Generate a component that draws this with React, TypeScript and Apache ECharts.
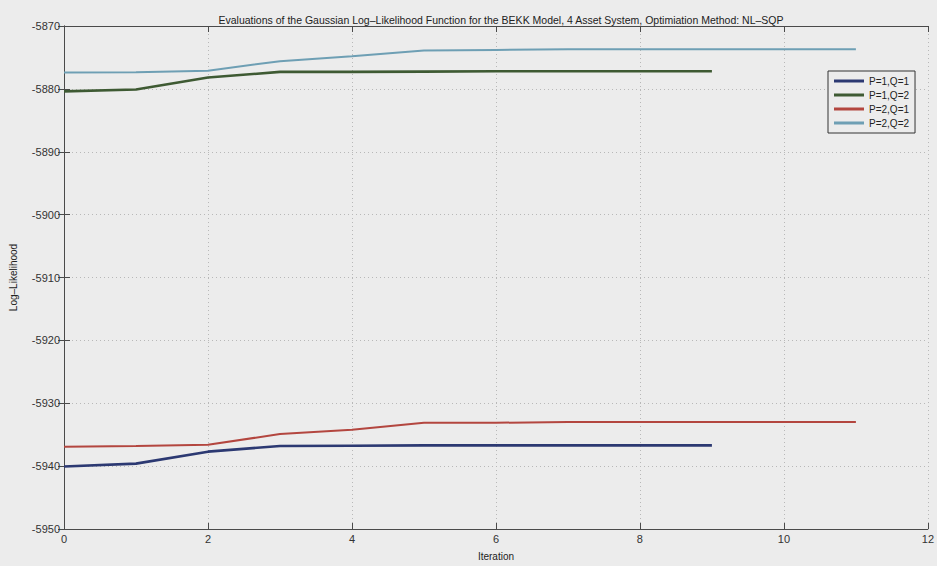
import React, { useEffect, useRef } from "react";
import * as echarts from "echarts";

const titleText =
  "Evaluations of the Gaussian Log–Likelihood Function for the BEKK Model, 4 Asset System, Optimiation Method: NL–SQP";
const xName = "Iteration";
const yName = "Log–Likelihood";

const seriesNames = ["P=1,Q=1", "P=1,Q=2", "P=2,Q=1", "P=2,Q=2"];
const seriesColors = ["#2c3972", "#3e5a33", "#b3463f", "#6e9fb4"];
const seriesWidths = [2.6, 2.6, 2, 2];

const itersShort = [0, 1, 2, 3, 4, 5, 6, 7, 8, 9];
const itersLong = [0, 1, 2, 3, 4, 5, 6, 7, 8, 9, 10, 11];

const p1q1 = [-5940.05, -5939.6, -5937.7, -5936.8, -5936.75, -5936.7, -5936.7, -5936.7, -5936.7, -5936.7];
const p1q2 = [-5880.4, -5880.1, -5878.2, -5877.3, -5877.3, -5877.25, -5877.2, -5877.2, -5877.2, -5877.2];
const p2q1 = [-5936.9, -5936.8, -5936.6, -5934.9, -5934.2, -5933.1, -5933.1, -5933.0, -5933.0, -5933.0, -5933.0, -5933.0];
const p2q2 = [-5877.4, -5877.35, -5877.1, -5875.6, -5874.8, -5873.9, -5873.8, -5873.7, -5873.7, -5873.7, -5873.7, -5873.7];

const seriesX = [itersShort, itersShort, itersLong, itersLong];
const seriesY = [p1q1, p1q2, p2q1, p2q2];

const X_MIN = 0;
const X_MAX = 12;
const X_STEP = 2;
const Y_MIN = -5950;
const Y_MAX = -5870;
const Y_STEP = 10;

const FONT = "'Liberation Sans', Arial, Helvetica, sans-serif";
const BG = "#ececec";
const AXIS = "#4a4a4a";

export default function App() {
  const ref = useRef<HTMLDivElement>(null);
  useEffect(() => {
    document.body.style.margin = "0";
    if (!ref.current) return;
    const chart = echarts.init(ref.current, undefined, { renderer: "svg" });
    const axisLabel = { color: "#333", fontSize: 11, fontFamily: FONT, formatter: (v: number) => String(v) };
    const mirrorX = {
      type: "value" as const,
      position: "top" as const,
      min: X_MIN,
      max: X_MAX,
      interval: X_STEP,
      axisLine: { show: true, lineStyle: { color: AXIS, width: 1 } },
      axisTick: { show: true, inside: true, length: 6, lineStyle: { color: AXIS } },
      axisLabel: { show: false },
      splitLine: { show: false },
    };
    const mirrorY = {
      type: "value" as const,
      position: "right" as const,
      min: Y_MIN,
      max: Y_MAX,
      interval: Y_STEP,
      axisLine: { show: true, lineStyle: { color: AXIS, width: 1 } },
      axisTick: { show: true, inside: true, length: 6, lineStyle: { color: AXIS } },
      axisLabel: { show: false },
      splitLine: { show: false },
    };
    chart.setOption({
      animation: false,
      backgroundColor: BG,
      title: {
        text: titleText,
        left: 496,
        textAlign: "center",
        top: 9,
        textStyle: { fontSize: 10.5, fontWeight: "normal", color: "#222", fontFamily: FONT },
      },
      legend: {
        orient: "vertical",
        left: 828,
        top: 71,
        padding: [5, 6, 5, 6],
        itemGap: 4,
        itemWidth: 30,
        itemHeight: 3,
        icon: "rect",
        borderColor: "#333",
        borderWidth: 1,
        backgroundColor: BG,
        textStyle: { fontSize: 10, color: "#222", fontFamily: FONT },
        data: seriesNames,
      },
      grid: { left: 59, top: 26, width: 876, height: 512, containLabel: false },
      xAxis: [
        {
          type: "value",
          min: X_MIN,
          max: X_MAX,
          interval: X_STEP,
          name: xName,
          nameLocation: "middle",
          nameGap: 22,
          nameTextStyle: { fontSize: 10, color: "#222", fontFamily: FONT },
          axisLine: { show: true, lineStyle: { color: AXIS, width: 1 } },
          axisTick: { show: true, inside: true, length: 6, lineStyle: { color: AXIS } },
          axisLabel: { ...axisLabel, margin: 4 },
          splitLine: { show: true, lineStyle: { color: "#b8b8b8", type: [1, 3], width: 1 } },
        },
        mirrorX,
      ],
      yAxis: [
        {
          type: "value",
          min: Y_MIN,
          max: Y_MAX,
          interval: Y_STEP,
          name: yName,
          nameLocation: "middle",
          nameGap: 46,
          nameRotate: 90,
          nameTextStyle: { fontSize: 10, color: "#222", fontFamily: FONT },
          axisLine: { show: true, lineStyle: { color: AXIS, width: 1 } },
          axisTick: { show: true, inside: true, length: 6, lineStyle: { color: AXIS } },
          axisLabel: { ...axisLabel, margin: 4 },
          splitLine: { show: true, lineStyle: { color: "#b8b8b8", type: [1, 3], width: 1 } },
        },
        mirrorY,
      ],
      series: seriesNames.map((name, i) => ({
        name,
        type: "line",
        xAxisIndex: 0,
        yAxisIndex: 0,
        showSymbol: false,
        symbol: "none",
        color: seriesColors[i],
        lineStyle: { color: seriesColors[i], width: seriesWidths[i] },
        data: seriesX[i].map((x, j) => [x, seriesY[i][j]]),
      })),
    });
    return () => chart.dispose();
  }, []);
  return (
    <div
      ref={ref}
      style={{ position: "fixed", left: 0, top: 0, width: 937, height: 566 }}
    />
  );
}
